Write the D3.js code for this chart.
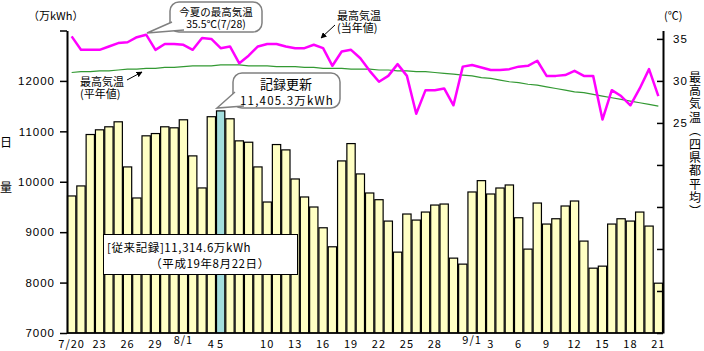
<!DOCTYPE html>
<html>
<head>
<meta charset="utf-8">
<script src="https://cdn.jsdelivr.net/npm/d3@7"></script>
<style>
  body { margin: 0; background: #fff; }
  svg { display: block; font-family: "Noto Sans CJK JP", "Noto Sans", sans-serif; }
  .axis text { font-size: 11.5px; fill: #000; }
  .axis .domain { stroke: #000; stroke-width: 2; }
  .axis .tick line { stroke: #000; stroke-width: 1.5; }
</style>
</head>
<body>
<div id="chart"></div>
<script>
// --- data -------------------------------------------------------------------
const days = [
  '7/20','7/21','7/22','7/23','7/24','7/25','7/26','7/27','7/28','7/29','7/30','7/31',
  '8/1','8/2','8/3','8/4','8/5','8/6','8/7','8/8','8/9','8/10','8/11','8/12','8/13','8/14',
  '8/15','8/16','8/17','8/18','8/19','8/20','8/21','8/22','8/23','8/24','8/25','8/26','8/27',
  '8/28','8/29','8/30','8/31',
  '9/1','9/2','9/3','9/4','9/5','9/6','9/7','9/8','9/9','9/10','9/11','9/12','9/13','9/14',
  '9/15','9/16','9/17','9/18','9/19','9/20','9/21'
];
// daily energy (万kWh)
const energy = [
  9718, 9917, 10937, 11030, 11090, 11189, 10294, 9678, 10911, 10956, 11090, 11070,
  11229, 10513, 9877, 11290, 11405.3, 11249, 10811, 10784, 10294, 9598, 10738, 10632, 10055, 9698,
  9499, 9087, 8710, 10413, 10757, 10155, 9777, 9644, 9220, 8604, 9360, 9240, 9399,
  9538, 9558, 8485, 8366,
  9797, 10022, 9757, 9876, 9936, 9286, 8664, 9578, 9161, 9266, 9519, 9618, 8823, 8286,
  8326, 9161, 9266, 9220, 9399, 9121, 7988
];
// max temperature, this year (℃)
const tempActual = [
  35.3, 33.7, 33.7, 33.7, 34.1, 34.5, 34.6, 35.2, 35.5, 33.7, 34.4, 34.4,
  34.3, 33.7, 35.1, 35.0, 33.9, 34.1, 32.1, 33.0, 34.1, 34.4, 34.4, 34.1, 33.9, 33.9,
  34.3, 33.9, 31.8, 33.5, 33.7, 32.7, 31.2, 29.9, 30.6, 32.0, 30.6, 26.1, 28.9,
  28.9, 29.1, 27.1, 31.7,
  31.9, 31.6, 31.3, 31.3, 31.4, 31.7, 31.8, 32.4, 30.6, 30.6, 30.7, 31.2, 30.6, 30.6,
  25.4, 28.9, 28.2, 27.1, 29.1, 31.4, 28.2
];
// max temperature, normal (℃)
const tempNormal = [
  31.0, 31.1, 31.1, 31.2, 31.2, 31.3, 31.4, 31.4, 31.5, 31.5, 31.6, 31.6,
  31.7, 31.8, 31.8, 31.8, 31.9, 31.9, 31.9, 31.8, 31.8, 31.8, 31.7, 31.7, 31.7, 31.6,
  31.6, 31.5, 31.5, 31.5, 31.4, 31.4, 31.4, 31.3, 31.3, 31.2, 31.2, 31.1, 31.1,
  31.0, 30.9, 30.8, 30.7,
  30.6, 30.4, 30.3, 30.1, 29.9, 29.8, 29.6, 29.5, 29.3, 29.1, 28.9, 28.7, 28.6, 28.4,
  28.2, 28.0, 27.8, 27.6, 27.4, 27.2, 27.0
];
const recordDay = '8/5';
// [day, label, raised]
const xTickLabels = [
  ['7/20','7/20',0],['7/23','23',0],['7/26','26',0],['7/29','29',0],['8/1','8/1',1],
  ['8/4','4',0],['8/5','5',0],['8/10','10',0],['8/13','13',0],['8/16','16',0],
  ['8/19','19',0],['8/22','22',0],['8/25','25',0],['8/28','28',0],['9/1','9/1',1],
  ['9/3','3',0],['9/6','6',0],['9/9','9',0],['9/12','12',0],['9/15','15',0],
  ['9/18','18',0],['9/21','21',0]
];
const leftTicks = [7000, 8000, 9000, 10000, 11000, 12000, 13000];
const rightTicks = [0, 5, 10, 15, 20, 25, 30, 35];
const rightLabelled = [25, 30, 35];

// --- layout -----------------------------------------------------------------
const W = 704, H = 351;
const X0 = 67, X1 = 663, YB = 333, YT = 30.5;

const svg = d3.select('#chart').append('svg').attr('width', W).attr('height', H);

const x = d3.scaleBand().domain(days).range([X0, X1]).padding(0);
const yL = d3.scaleLinear().domain([7000, 13000]).range([YB, YT]);
const yR = d3.scaleLinear().domain([0, 36]).range([YB, YT]);

// Bars
svg.append('g').selectAll('rect').data(days).join('rect')
  .attr('x', d => x(d) + 0.5)
  .attr('width', x.bandwidth() - 1)
  .attr('y', (d, i) => yL(energy[i]))
  .attr('height', (d, i) => YB - yL(energy[i]))
  .attr('fill', d => d === recordDay ? '#a3dede' : '#ffffc4')
  .attr('stroke', '#000').attr('stroke-width', 1.2);

// baseline
svg.append('line').attr('x1', X0).attr('x2', X1).attr('y1', YB).attr('y2', YB)
  .attr('stroke', '#000').attr('stroke-width', 1.5);

// Axes
svg.append('g').attr('class', 'axis')
  .attr('transform', `translate(${X0},0)`)
  .call(d3.axisLeft(yL).tickValues(leftTicks).tickSize(7).tickSizeOuter(0).tickPadding(5)
    .tickFormat(d => d === 13000 ? '' : d));

svg.append('g').attr('class', 'axis')
  .attr('transform', `translate(${X1},0)`)
  .call(d3.axisRight(yR).tickValues(rightTicks).tickSize(-6).tickSizeOuter(0).tickPadding(10)
    .tickFormat(d => rightLabelled.includes(d) ? d : ''));
svg.selectAll('.axis text').style('letter-spacing', '1px');

// x labels
svg.append('g').selectAll('text').data(xTickLabels).join('text')
  .attr('x', d => x(d[0]) + x.bandwidth() / 2)
  .attr('y', d => d[2] ? 344 : 348)
  .attr('text-anchor', 'middle')
  .style('font-size', '11px').style('letter-spacing', '1px')
  .text(d => d[1]);

// Temperature lines
const lineN = d3.line().x((d, i) => x(days[i]) + x.bandwidth() / 2).y(d => yR(d));
svg.append('path').datum(tempNormal).attr('d', lineN)
  .attr('fill', 'none').attr('stroke', '#339933').attr('stroke-width', 1.2);
svg.append('path').datum(tempActual).attr('d', lineN)
  .attr('fill', 'none').attr('stroke', '#ff00ff').attr('stroke-width', 2.5)
  .attr('stroke-linejoin', 'round');

// two-line text helper (one <text>, two tspans)
function text2(x0, y0, lines, size, anchor, dy) {
  const t = svg.append('text').attr('x', x0).attr('y', y0)
    .attr('text-anchor', anchor || 'start').style('font-size', size + 'px');
  lines.forEach((s, i) => t.append('tspan').attr('x', x0).attr('dy', i ? dy : 0).text(s));
  return t;
}

// Titles / units
svg.append('text').attr('x', 28).attr('y', 20).style('font-size', '11px').text('（万kWh）');
svg.append('text').attr('x', 664).attr('y', 20).style('font-size', '11px').text('(℃)');
svg.append('text').attr('x', 6).attr('y', 147).attr('text-anchor', 'middle')
  .style('font-size', '12px').text('日');
svg.append('text').attr('x', 6).attr('y', 192).attr('text-anchor', 'middle')
  .style('font-size', '12px').text('量');

// right axis title, vertical
svg.append('text').attr('x', 695).attr('y', 71)
  .style('writing-mode', 'vertical-rl').style('font-size', '12px')
  .style('letter-spacing', '1.4px')
  .text('最高気温（四県都平均）');

// Callouts
function callout(rx0, ry0, rw, rh, a, tip, b) {
  const g = svg.append('g');
  g.append('rect').attr('x', rx0).attr('y', ry0).attr('width', rw).attr('height', rh)
    .attr('rx', 9).attr('fill', '#fff').attr('stroke', '#808080').attr('stroke-width', 1.5);
  g.append('path').attr('d', `M${a[0]},${a[1]}L${tip[0]},${tip[1]}L${b[0]},${b[1]}`)
    .attr('fill', '#fff').attr('stroke', '#808080').attr('stroke-width', 1.5);
  return g;
}
callout(170, 2, 92, 30, [172, 22], [147, 33], [184, 30]);
text2(216, 16, ['今夏の最高気温', '35.5℃(7/28)'], 10.5, 'middle', 12);

callout(233, 73, 107, 35, [235, 92], [217, 108], [244, 106]);
svg.append('text').attr('x', 286).attr('y', 89).attr('text-anchor', 'middle')
  .style('font-size', '13px').text('記録更新');
svg.append('text').attr('x', 287).attr('y', 104.5).attr('text-anchor', 'middle')
  .style('font-size', '11.5px').style('letter-spacing', '1.2px').text('11,405.3万kWh');

// previous record box
svg.append('rect').attr('x', 103.5).attr('y', 234.5).attr('width', 194).attr('height', 40)
  .attr('fill', '#fff').attr('stroke', '#000').attr('stroke-width', 1);
svg.append('text').attr('x', 107).attr('y', 252).style('font-size', '11.5px')
  .style('letter-spacing', '0.6px').text('[従来記録]11,314.6万kWh');
svg.append('text').attr('x', 210).attr('y', 268).attr('text-anchor', 'middle')
  .style('font-size', '11.5px').style('letter-spacing', '0.6px').text('（平成19年8月22日）');

// line labels with arrows
svg.append('defs').append('marker').attr('id', 'ah')
  .attr('viewBox', '0 0 10 10').attr('refX', 9).attr('refY', 5)
  .attr('markerWidth', 6).attr('markerHeight', 6).attr('orient', 'auto')
  .append('path').attr('d', 'M0,0L10,5L0,10z').attr('fill', '#000');

text2(337, 20, ['最高気温', '(当年値)'], 11, 'start', 12);
svg.append('line').attr('x1', 335).attr('y1', 25).attr('x2', 321).attr('y2', 38)
  .attr('stroke', '#000').attr('stroke-width', 1).attr('marker-end', 'url(#ah)');

text2(80, 86, ['最高気温', '(平年値)'], 11, 'start', 12);
svg.append('line').attr('x1', 127).attr('y1', 80).attr('x2', 142).attr('y2', 72)
  .attr('stroke', '#000').attr('stroke-width', 1).attr('marker-end', 'url(#ah)');
</script>
</body>
</html>
